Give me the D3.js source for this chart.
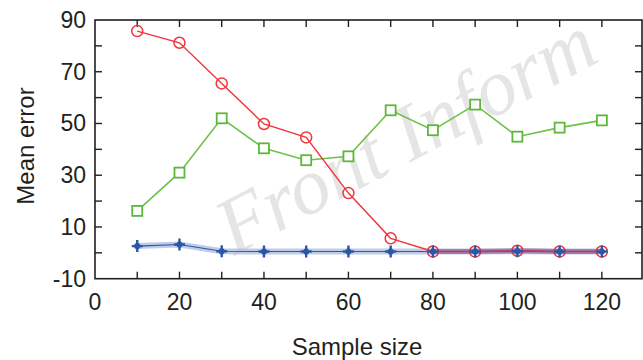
<!DOCTYPE html>
<html>
<head>
<meta charset="utf-8">
<script src="https://cdn.jsdelivr.net/npm/d3@7"></script>
<style>
  body { margin: 0; background: #fff; }
  svg { display: block; }
  text { font-family: "Liberation Sans", Arial, sans-serif; }
</style>
</head>
<body>
<div id="chart"></div>
<script>
var sampleSize = [10, 20, 30, 40, 50, 60, 70, 80, 90, 100, 110, 120];
var redErr = [85.7, 81.2, 65.5, 49.8, 44.6, 23.1, 5.6, 0.5, 0.5, 0.8, 0.5, 0.5];
var greenErr = [16.2, 31, 52, 40.4, 35.8, 37.3, 55.1, 47.4, 57.3, 44.9, 48.4, 51.2];
var blueErr = [2.6, 3.2, 0.6, 0.5, 0.5, 0.5, 0.5, 0.5, 0.5, 0.6, 0.5, 0.5];
var xTickLabels = [0, 20, 40, 60, 80, 100, 120];
var yTickLabels = [-10, 10, 30, 50, 70, 90];

var width = 643, height = 360;
var svg = d3.select('#chart').append('svg')
    .attr('width', width)
    .attr('height', height);

var x = d3.scaleLinear().domain([0, 129.5]).range([95, 642]);
var y = d3.scaleLinear().domain([-10, 90]).range([278.7, 20]);

// watermark
svg.append('text')
    .attr('transform', 'translate(234,256) rotate(-28)')
    .style('font-family', '"Liberation Serif", "Times New Roman", serif')
    .style('font-style', 'italic')
    .style('font-size', '80px')
    .style('fill', '#e5e5e5')
    .text('Front Inform');

// frame
svg.append('rect')
    .attr('x', x(0)).attr('y', y(90))
    .attr('width', x(129.5) - x(0)).attr('height', y(-10) - y(90))
    .style('fill', 'none').style('stroke', '#231f20').style('stroke-width', 1.6);

var xt = d3.range(10, 130, 10);
var yt = d3.range(0, 90, 10);
var tk = 7;
svg.selectAll('.xb').data(xt).enter().append('line')
    .attr('x1', function(d) { return x(d); }).attr('x2', function(d) { return x(d); })
    .attr('y1', y(-10)).attr('y2', y(-10) - tk)
    .style('stroke', '#231f20').style('stroke-width', 1.4);
svg.selectAll('.xt').data(xt).enter().append('line')
    .attr('x1', function(d) { return x(d); }).attr('x2', function(d) { return x(d); })
    .attr('y1', y(90)).attr('y2', y(90) + tk)
    .style('stroke', '#231f20').style('stroke-width', 1.4);
svg.selectAll('.yl').data(yt).enter().append('line')
    .attr('x1', x(0)).attr('x2', x(0) + tk)
    .attr('y1', function(d) { return y(d); }).attr('y2', function(d) { return y(d); })
    .style('stroke', '#231f20').style('stroke-width', 1.4);
svg.selectAll('.yr').data(yt).enter().append('line')
    .attr('x1', x(129.5)).attr('x2', x(129.5) - tk)
    .attr('y1', function(d) { return y(d); }).attr('y2', function(d) { return y(d); })
    .style('stroke', '#231f20').style('stroke-width', 1.4);

svg.selectAll('.xlab').data(xTickLabels).enter().append('text')
    .attr('x', function(d) { return x(d); })
    .attr('y', 310)
    .attr('text-anchor', 'middle')
    .style('font-size', '23px').style('fill', '#231f20')
    .text(function(d) { return d; });
svg.selectAll('.ylab').data(yTickLabels).enter().append('text')
    .attr('x', 86)
    .attr('y', function(d) { return y(d) + 8; })
    .attr('text-anchor', 'end')
    .style('font-size', '23px').style('fill', '#231f20')
    .text(function(d) { return d; });

svg.append('text')
    .attr('x', 357).attr('y', 355)
    .attr('text-anchor', 'middle')
    .style('font-size', '24px').style('fill', '#231f20')
    .text('Sample size');
svg.append('text')
    .attr('transform', 'translate(34,146) rotate(-90)')
    .attr('text-anchor', 'middle')
    .style('font-size', '24px').style('fill', '#231f20')
    .text('Mean error');

var line = function(vals) {
    return d3.line()
        .defined(function(d) { return d !== null; })
        .x(function(d, i) { return x(sampleSize[i]); })
        .y(function(d) { return y(d); })(vals);
};

// blue series (thick halo + thin line)
svg.append('path').attr('d', line(blueErr))
    .style('fill', 'none').style('stroke', '#a9bbe0').style('stroke-width', 6).style('opacity', 0.75);
svg.append('path').attr('d', line(blueErr))
    .style('fill', 'none').style('stroke', '#2b57a8').style('stroke-width', 1.1);

// green series
svg.append('path').attr('d', line(greenErr))
    .style('fill', 'none').style('stroke', '#6cc24a').style('stroke-width', 1.6);
svg.selectAll('.gsq').data(greenErr).enter().append('rect')
    .attr('x', function(d, i) { return x(sampleSize[i]) - 5; })
    .attr('y', function(d) { return y(d) - 5; })
    .attr('width', 10).attr('height', 10)
    .style('fill', 'white').style('stroke', '#5cb83a').style('stroke-width', 1.8);

// red series
svg.append('path').attr('d', line(redErr))
    .style('fill', 'none').style('stroke', '#f2333c').style('stroke-width', 1.4);
svg.selectAll('.rc').data(redErr).enter().append('circle')
    .attr('cx', function(d, i) { return x(sampleSize[i]); })
    .attr('cy', function(d) { return y(d); })
    .attr('r', 5.5)
    .style('fill', 'none').style('stroke', '#f2333c').style('stroke-width', 1.5);

// red overlapping blue from 80 on gives a purple line
var redTail = redErr.map(function(v, i) { return sampleSize[i] >= 80 ? v : null; });
svg.append('path').attr('d', line(redTail))
    .style('fill', 'none').style('stroke', '#8a3f7a').style('stroke-width', 5).style('opacity', 0.55);

// blue stars
var star = 'M-5.5,0L5.5,0M0,-6L0,6M-2.2,-2.2L2.2,2.2M-2.2,2.2L2.2,-2.2';
svg.selectAll('.bs').data(blueErr).enter().append('path')
    .attr('transform', function(d, i) { return 'translate(' + x(sampleSize[i]) + ',' + y(d) + ')'; })
    .attr('d', star)
    .style('fill', 'none').style('stroke', '#2b57a8').style('stroke-width', 2.4);
</script>
</body>
</html>
